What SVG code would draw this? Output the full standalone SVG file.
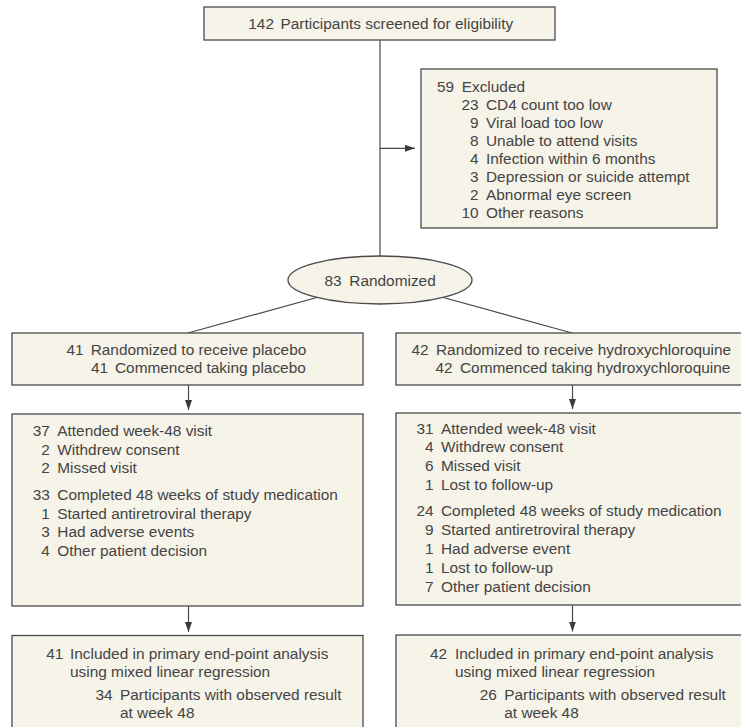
<svg xmlns="http://www.w3.org/2000/svg" width="741" height="727" viewBox="0 0 741 727">
<style>
.box{fill:#f6f3e8;stroke:#4a4a4a;stroke-width:1.3}
.ln{stroke:#4a4a4a;stroke-width:1.2;fill:none}
.t{font-family:"Liberation Sans",Arial,sans-serif;font-size:15.4px;fill:#444444}
.n{text-anchor:end}
</style>
<defs>
<marker id="ah" markerUnits="userSpaceOnUse" markerWidth="10" markerHeight="8" refX="10" refY="3.5" orient="auto">
<path d="M0,0 L10,3.5 L0,7 z" fill="#3a3a3a"/>
</marker>
</defs>
<rect width="741" height="727" fill="#ffffff"/>
<g id="connectors">
<line class="ln" x1="380" y1="40" x2="380" y2="260"/>
<line class="ln" x1="380" y1="148.3" x2="415" y2="148.3" marker-end="url(#ah)"/>
<line class="ln" x1="380" y1="280" x2="188" y2="333"/>
<line class="ln" x1="380" y1="280" x2="572" y2="333"/>
<line class="ln" x1="188.5" y1="385" x2="188.5" y2="410" marker-end="url(#ah)"/>
<line class="ln" x1="572.5" y1="385" x2="572.5" y2="409" marker-end="url(#ah)"/>
<line class="ln" x1="188.5" y1="606" x2="188.5" y2="632" marker-end="url(#ah)"/>
<line class="ln" x1="572.5" y1="605" x2="572.5" y2="631.5" marker-end="url(#ah)"/>
</g>
<g id="screened">
<rect class="box" x="204" y="7" width="351" height="33"/>
<text class="t n" x="274" y="29">142</text>
<text class="t" x="280.5" y="29">Participants screened for eligibility</text>
</g>
<g id="excluded">
<rect class="box" x="421" y="69" width="296" height="159"/>
<text class="t n" x="454" y="92">59</text><text class="t" x="461.7" y="92">Excluded</text>
<text class="t n" x="478.5" y="110">23</text><text class="t" x="486" y="110">CD4 count too low</text>
<text class="t n" x="478.5" y="128">9</text><text class="t" x="486" y="128">Viral load too low</text>
<text class="t n" x="478.5" y="146">8</text><text class="t" x="486" y="146">Unable to attend visits</text>
<text class="t n" x="478.5" y="164">4</text><text class="t" x="486" y="164">Infection within 6 months</text>
<text class="t n" x="478.5" y="182">3</text><text class="t" x="486" y="182">Depression or suicide attempt</text>
<text class="t n" x="478.5" y="200">2</text><text class="t" x="486" y="200">Abnormal eye screen</text>
<text class="t n" x="478.5" y="218">10</text><text class="t" x="486" y="218">Other reasons</text>
</g>
<g id="randomized">
<ellipse class="box" cx="380" cy="280" rx="92" ry="24"/>
<text class="t n" x="341.7" y="285.7">83</text>
<text class="t" x="349.3" y="285.7">Randomized</text>
</g>
<g id="placebo-alloc">
<rect class="box" x="12" y="333" width="351" height="52"/>
<text class="t n" x="83.5" y="355">41</text><text class="t" x="90.7" y="355">Randomized to receive placebo</text>
<text class="t n" x="108" y="372.7">41</text><text class="t" x="115" y="372.7">Commenced taking placebo</text>
</g>
<g id="hcq-alloc">
<rect class="box" x="396" y="333" width="352" height="52"/>
<text class="t n" x="428.5" y="355">42</text><text class="t" x="436" y="355">Randomized to receive hydroxychloroquine</text>
<text class="t n" x="452.5" y="372.7">42</text><text class="t" x="460" y="372.7">Commenced taking hydroxychloroquine</text>
</g>
<g id="placebo-followup">
<rect class="box" x="12" y="414" width="351" height="192"/>
<text class="t n" x="49.8" y="436">37</text><text class="t" x="57.3" y="436">Attended week-48 visit</text>
<text class="t n" x="49.8" y="454.7">2</text><text class="t" x="57.3" y="454.7">Withdrew consent</text>
<text class="t n" x="49.8" y="473.4">2</text><text class="t" x="57.3" y="473.4">Missed visit</text>
<text class="t n" x="49.8" y="500">33</text><text class="t" x="57.3" y="500">Completed 48 weeks of study medication</text>
<text class="t n" x="49.8" y="518.7">1</text><text class="t" x="57.3" y="518.7">Started antiretroviral therapy</text>
<text class="t n" x="49.8" y="537.4">3</text><text class="t" x="57.3" y="537.4">Had adverse events</text>
<text class="t n" x="49.8" y="556.1">4</text><text class="t" x="57.3" y="556.1">Other patient decision</text>
</g>
<g id="hcq-followup">
<rect class="box" x="396" y="413" width="352" height="192"/>
<text class="t n" x="433.6" y="433.5">31</text><text class="t" x="441" y="433.5">Attended week-48 visit</text>
<text class="t n" x="433.6" y="452.3">4</text><text class="t" x="441" y="452.3">Withdrew consent</text>
<text class="t n" x="433.6" y="471.1">6</text><text class="t" x="441" y="471.1">Missed visit</text>
<text class="t n" x="433.6" y="489.9">1</text><text class="t" x="441" y="489.9">Lost to follow-up</text>
<text class="t n" x="433.6" y="516.4">24</text><text class="t" x="441" y="516.4">Completed 48 weeks of study medication</text>
<text class="t n" x="433.6" y="535.2">9</text><text class="t" x="441" y="535.2">Started antiretroviral therapy</text>
<text class="t n" x="433.6" y="554">1</text><text class="t" x="441" y="554">Had adverse event</text>
<text class="t n" x="433.6" y="572.8">1</text><text class="t" x="441" y="572.8">Lost to follow-up</text>
<text class="t n" x="433.6" y="591.6">7</text><text class="t" x="441" y="591.6">Other patient decision</text>
</g>
<g id="placebo-analysis">
<rect class="box" x="12" y="635.5" width="351" height="100"/>
<text class="t n" x="63.3" y="658.5">41</text><text class="t" x="70" y="658.5">Included in primary end-point analysis</text>
<text class="t" x="70" y="677">using mixed linear regression</text>
<text class="t n" x="112.5" y="699.5">34</text><text class="t" x="120" y="699.5">Participants with observed result</text>
<text class="t" x="120" y="718">at week 48</text>
</g>
<g id="hcq-analysis">
<rect class="box" x="396" y="635" width="352" height="100"/>
<text class="t n" x="447" y="658.5">42</text><text class="t" x="455" y="658.5">Included in primary end-point analysis</text>
<text class="t" x="455" y="677">using mixed linear regression</text>
<text class="t n" x="496.8" y="699.5">26</text><text class="t" x="504.3" y="699.5">Participants with observed result</text>
<text class="t" x="504.3" y="718">at week 48</text>
</g>
</svg>
